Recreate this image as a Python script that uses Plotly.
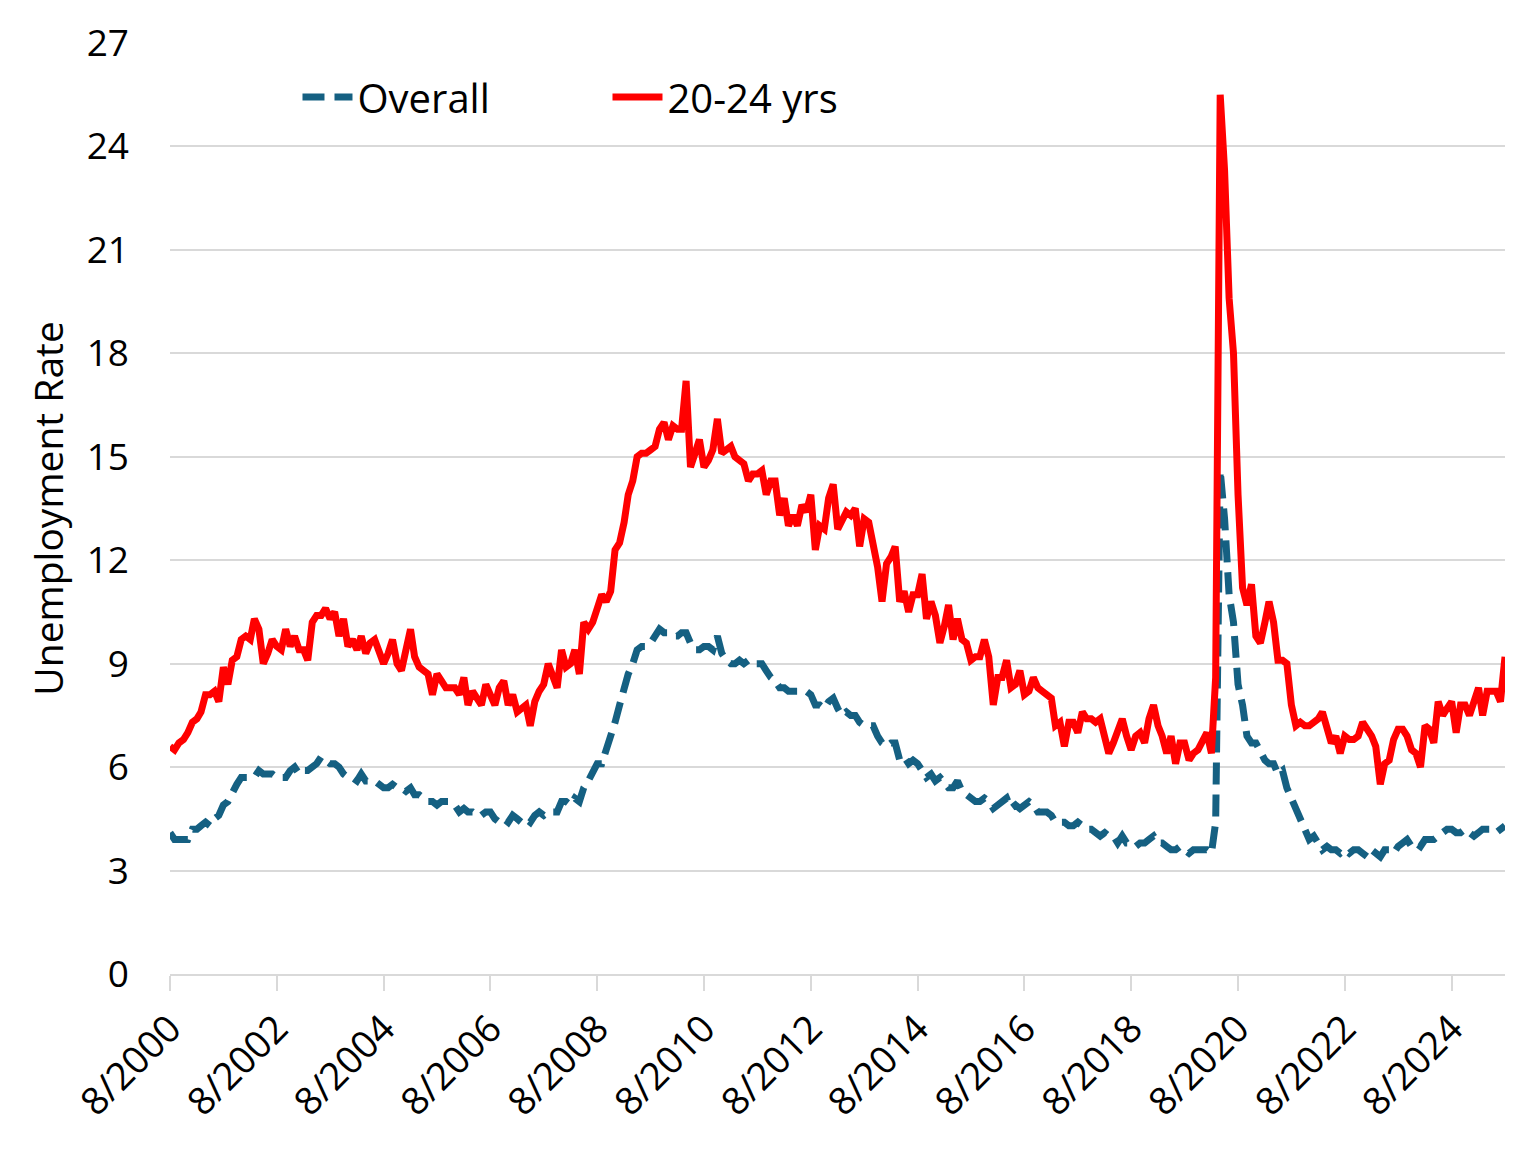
import plotly.graph_objects as go
import pandas as pd

# Monthly data, Aug 2000 - Aug 2025
start_month = "2000-08-01"
n_months = 301

overall = [
    # 2000 Aug-Dec
    4.1, 3.9, 3.9, 3.9, 3.9,
    # 2001
    4.2, 4.2, 4.3, 4.4, 4.3, 4.5, 4.6, 4.9, 5.0, 5.3, 5.5, 5.7,
    # 2002
    5.7, 5.7, 5.7, 5.9, 5.8, 5.8, 5.8, 5.7, 5.7, 5.7, 5.9, 6.0,
    # 2003
    5.8, 5.9, 5.9, 6.0, 6.1, 6.3, 6.2, 6.1, 6.1, 6.0, 5.8, 5.7,
    # 2004
    5.7, 5.6, 5.8, 5.6, 5.6, 5.6, 5.5, 5.4, 5.4, 5.5, 5.4, 5.4,
    # 2005
    5.3, 5.4, 5.2, 5.2, 5.1, 5.0, 5.0, 4.9, 5.0, 5.0, 5.0, 4.9,
    # 2006
    4.7, 4.8, 4.7, 4.7, 4.6, 4.6, 4.7, 4.7, 4.5, 4.4, 4.5, 4.4,
    # 2007
    4.6, 4.5, 4.4, 4.5, 4.4, 4.6, 4.7, 4.6, 4.7, 4.7, 4.7, 5.0,
    # 2008
    5.0, 4.9, 5.1, 5.0, 5.4, 5.6, 5.8, 6.1, 6.1, 6.5, 6.8, 7.3,
    # 2009
    7.8, 8.3, 8.7, 9.0, 9.4, 9.5, 9.5, 9.6, 9.8, 10.0, 9.9, 9.9,
    # 2010
    9.8, 9.8, 9.9, 9.9, 9.6, 9.4, 9.4, 9.5, 9.5, 9.4, 9.8, 9.3,
    # 2011
    9.1, 9.0, 9.0, 9.1, 9.0, 9.1, 9.0, 9.0, 9.0, 8.8, 8.6, 8.5,
    # 2012
    8.3, 8.3, 8.2, 8.2, 8.2, 8.2, 8.2, 8.1, 7.8, 7.8, 7.7, 7.9,
    # 2013
    8.0, 7.7, 7.5, 7.6, 7.5, 7.5, 7.3, 7.2, 7.2, 7.2, 6.9, 6.7,
    # 2014
    6.6, 6.7, 6.7, 6.2, 6.3, 6.1, 6.2, 6.1, 5.9, 5.7, 5.8, 5.6,
    # 2015
    5.7, 5.5, 5.4, 5.4, 5.6, 5.3, 5.2, 5.1, 5.0, 5.0, 5.1, 5.0,
    # 2016
    4.8, 4.9, 5.0, 5.1, 4.8, 4.9, 4.8, 4.9, 5.0, 4.9, 4.7, 4.7,
    # 2017
    4.7, 4.6, 4.4, 4.4, 4.4, 4.3, 4.3, 4.4, 4.3, 4.2, 4.2, 4.1,
    # 2018
    4.0, 4.1, 4.0, 4.0, 3.8, 4.0, 3.8, 3.8, 3.7, 3.8, 3.8, 3.9,
    # 2019
    4.0, 3.8, 3.8, 3.7, 3.6, 3.6, 3.7, 3.6, 3.5, 3.6, 3.6, 3.6,
    # 2020
    3.6, 3.5, 4.4, 14.6, 13.2, 11.0, 10.2, 8.4, 7.8, 6.9, 6.7, 6.7,
    # 2021
    6.4, 6.2, 6.1, 6.1, 5.8, 5.9, 5.4, 5.1, 4.7, 4.5, 4.2, 3.9,
    # 2022
    4.0, 3.8, 3.6, 3.7, 3.6, 3.6, 3.5, 3.6, 3.5, 3.6, 3.6, 3.5,
    # 2023
    3.4, 3.6, 3.5, 3.4, 3.6, 3.6, 3.5, 3.7, 3.8, 3.9, 3.7, 3.8,
    # 2024
    3.7, 3.9, 3.9, 3.9, 4.0, 4.1, 4.2, 4.2, 4.1, 4.1, 4.2, 4.1,
    # 2025 Jan-Aug
    4.0, 4.1, 4.2, 4.2, 4.2, 4.1, 4.2, 4.3,
]

age_20_24 = [
    # 2000 Aug-Dec
    6.6, 6.5, 6.7, 6.8, 7.0,
    # 2001
    7.3, 7.4, 7.6, 8.1, 8.1, 8.2, 7.9, 8.9, 8.4, 9.1, 9.2, 9.7,
    # 2002
    9.8, 9.7, 10.3, 10.0, 9.0, 9.3, 9.7, 9.5, 9.4, 10.0, 9.5, 9.8,
    # 2003
    9.4, 9.4, 9.1, 10.2, 10.4, 10.4, 10.6, 10.3, 10.5, 9.8, 10.3, 9.5,
    # 2004
    9.7, 9.4, 9.8, 9.3, 9.6, 9.7, 9.3, 9.0, 9.3, 9.7, 9.0, 8.8,
    # 2005
    9.4, 10.0, 9.2, 8.9, 8.8, 8.7, 8.1, 8.7, 8.5, 8.3, 8.3, 8.3,
    # 2006
    8.1, 8.6, 7.8, 8.2, 8.0, 7.8, 8.4, 8.1, 7.8, 8.3, 8.5, 7.8,
    # 2007
    8.1, 7.6, 7.7, 7.8, 7.2, 7.9, 8.2, 8.4, 9.0, 8.6, 8.3, 9.4,
    # 2008
    8.9, 9.0, 9.4, 8.7, 10.2, 10.0, 10.2, 10.6, 11.0, 10.8, 11.1, 12.3,
    # 2009
    12.5, 13.1, 13.9, 14.3, 15.0, 15.1, 15.1, 15.2, 15.3, 15.8, 16.0, 15.5,
    # 2010
    15.9, 15.8, 15.8, 17.2, 14.7, 15.1, 15.5, 14.7, 14.9, 15.2, 16.1, 15.1,
    # 2011
    15.2, 15.3, 15.0, 14.9, 14.8, 14.3, 14.5, 14.5, 14.6, 13.9, 14.3, 14.3,
    # 2012
    13.3, 13.8, 13.0, 13.3, 13.0, 13.6, 13.4, 13.9, 12.3, 13.0, 12.9, 13.8,
    # 2013
    14.2, 12.9, 13.1, 13.4, 13.3, 13.5, 12.4, 13.2, 13.1, 12.5, 11.8, 10.8,
    # 2014
    11.9, 12.1, 12.4, 10.8, 11.1, 10.5, 11.0, 11.0, 11.6, 10.3, 10.8, 10.4,
    # 2015
    9.6, 10.1, 10.7, 9.7, 10.3, 9.7, 9.6, 9.1, 9.2, 9.2, 9.7, 9.2,
    # 2016
    7.8, 8.6, 8.6, 9.1, 8.3, 8.4, 8.8, 8.1, 8.2, 8.6, 8.3, 8.2,
    # 2017
    8.1, 8.0, 7.2, 7.3, 6.6, 7.3, 7.3, 7.0, 7.6, 7.4, 7.4, 7.3,
    # 2018
    7.4, 6.9, 6.4, 6.7, 7.0, 7.4, 6.9, 6.5, 6.9, 7.0, 6.7, 7.4,
    # 2019
    7.8, 7.2, 6.9, 6.4, 6.9, 6.1, 6.7, 6.7, 6.2, 6.4, 6.5, 6.7,
    # 2020
    7.0, 6.4, 8.6, 25.5, 23.3, 19.6, 18.0, 13.9, 11.2, 10.7, 11.3, 9.8,
    # 2021
    9.6, 10.2, 10.8, 10.2, 9.1, 9.1, 9.0, 7.8, 7.2, 7.3, 7.2, 7.2,
    # 2022
    7.3, 7.4, 7.6, 7.2, 6.7, 6.9, 6.4, 6.9, 6.8, 6.8, 6.9, 7.3,
    # 2023
    7.1, 6.9, 6.6, 5.5, 6.1, 6.2, 6.8, 7.1, 7.1, 6.9, 6.5, 6.4,
    # 2024
    6.0, 7.2, 7.1, 6.7, 7.9, 7.5, 7.7, 7.9, 7.0, 7.8, 7.8, 7.5,
    # 2025 Jan-Aug
    7.9, 8.3, 7.5, 8.2, 8.2, 8.2, 7.9, 9.2,
]

tick_dates = ["2000-08-01", "2002-08-01", "2004-08-01", "2006-08-01",
              "2008-08-01", "2010-08-01", "2012-08-01", "2014-08-01",
              "2016-08-01", "2018-08-01", "2020-08-01", "2022-08-01",
              "2024-08-01"]
tick_labels = ["8/2000", "8/2002", "8/2004", "8/2006", "8/2008", "8/2010",
               "8/2012", "8/2014", "8/2016", "8/2018", "8/2020", "8/2022",
               "8/2024"]
y_ticks = [0, 3, 6, 9, 12, 15, 18, 21, 24, 27]

months = pd.date_range(start_month, periods=n_months, freq="MS")

FONT = "Open Sans"
FS = 37
GRID = "#d9d9d9"

fig = go.Figure()
fig.add_trace(go.Scatter(
    x=months, y=overall, mode="lines", name="Overall",
    line=dict(color="#156082", width=7, dash="22px,10px"),
))
fig.add_trace(go.Scatter(
    x=months, y=age_20_24, mode="lines", name="20-24 yrs",
    line=dict(color="#ff0000", width=7),
))

# page body has an 8px margin; figure sized so plot area lands where the reference has it
fig.update_layout(
    width=1516, height=1136,
    margin=dict(l=162, r=19, t=35, b=170, autoexpand=False),
    paper_bgcolor="white", plot_bgcolor="white",
    font=dict(family=FONT, size=FS, color="black"),
    showlegend=True,
    legend=dict(orientation="h", x=0.0955, y=0.942, xanchor="left", yanchor="middle",
                bgcolor="rgba(0,0,0,0)", entrywidth=245, entrywidthmode="pixels",
                itemwidth=50, font=dict(family=FONT, size=40)),
    annotations=[dict(text="Unemployment Rate", textangle=-90, xref="paper", yref="paper",
                      x=-0.092, y=0.5, xanchor="center", yanchor="middle",
                      showarrow=False, font=dict(family=FONT, size=39))],
)
fig.update_xaxes(
    type="date", range=[months[0], months[-1]],
    tickvals=tick_dates, ticktext=tick_labels, tickangle=-45,
    showgrid=False, zeroline=False, showline=True, linecolor=GRID, linewidth=2,
    ticks="outside", ticklen=15, tickwidth=2, tickcolor=GRID,
    tickfont=dict(family=FONT, size=38),
)
fig.update_yaxes(
    range=[0, 27], tickvals=y_ticks, showgrid=True, gridcolor=GRID, gridwidth=2,
    zeroline=False, showline=False, ticks="", ticklabelstandoff=40,
    tickfont=dict(family=FONT, size=FS),
)

fig.write_html("out.html")
